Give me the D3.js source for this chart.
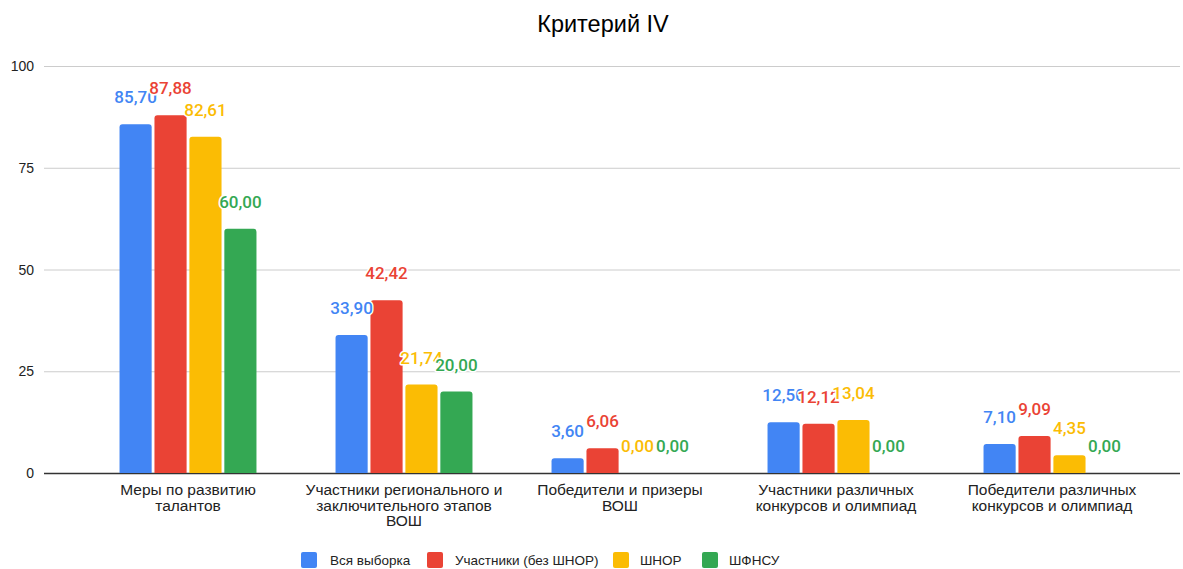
<!DOCTYPE html>
<html>
<head>
<meta charset="utf-8">
<script src="https://cdn.jsdelivr.net/npm/d3@7"></script>
<style>
  body { margin: 0; background: #fff; }
  svg { display: block; }
</style>
</head>
<body>
<svg id="chart" width="1183" height="569"></svg>
<script>
// chart data
const categories = [
  ['Меры по развитию', 'талантов'],
  ['Участники регионального и', 'заключительного этапов', 'ВОШ'],
  ['Победители и призеры', 'ВОШ'],
  ['Участники различных', 'конкурсов и олимпиад'],
  ['Победители различных', 'конкурсов и олимпиад']
];
const seriesNames = ['Вся выборка', 'Участники (без ШНОР)', 'ШНОР', 'ШФНСУ'];
const seriesColors = ['#4285F4', '#EA4335', '#FBBC04', '#34A853'];
const allSample = [85.70, 33.90, 3.60, 12.50, 7.10];
const participants = [87.88, 42.42, 6.06, 12.12, 9.09];
const shnor = [82.61, 21.74, 0.00, 13.04, 4.35];
const shfnsu = [60.00, 20.00, 0.00, 0.00, 0.00];
const yTicks = [0, 25, 50, 75, 100];

const seriesValues = [allSample, participants, shnor, shfnsu];

const svg = d3.select('#chart');
const plotLeft = 44, plotRight = 1180, plotTop = 66, plotBottom = 473;

const x0 = d3.scaleBand()
  .domain(d3.range(categories.length))
  .range([80, 1160])
  .paddingInner(0.366)
  .paddingOuter(0.183);

const x1 = d3.scaleBand()
  .domain(d3.range(seriesNames.length))
  .range([0, x0.bandwidth()])
  .paddingInner(0.08);

const y = d3.scaleLinear().domain([0, 100]).range([plotBottom, plotTop]);

// title
svg.append('text')
  .attr('x', 603).attr('y', 32)
  .attr('text-anchor', 'middle')
  .style('font-family', 'Arial, "Liberation Sans", sans-serif')
  .style('font-size', '23.5px')
  .attr('fill', '#000')
  .text('Критерий IV');

// grid + y axis labels
const yAxis = svg.append('g');
yAxis.selectAll('line')
  .data(yTicks)
  .enter().append('line')
  .attr('x1', plotLeft).attr('x2', plotRight)
  .attr('y1', d => y(d) + 0.5).attr('y2', d => y(d) + 0.5)
  .attr('stroke', d => d === 0 ? '#333' : '#ccc')
  .attr('stroke-width', d => d === 0 ? 1.5 : 1);

yAxis.selectAll('text')
  .data(yTicks)
  .enter().append('text')
  .attr('x', 34).attr('y', d => y(d) + 5)
  .attr('text-anchor', 'end')
  .style('font-family', 'Arial, "Liberation Sans", sans-serif')
  .style('font-size', '14px')
  .attr('fill', '#222')
  .text(d => d);

// bars with rounded tops
function barPath(x, yTop, w, h) {
  const r = Math.min(3, h / 2, w / 2);
  if (h <= 0) return '';
  return `M${x},${yTop + h}V${yTop + r}Q${x},${yTop} ${x + r},${yTop}` +
    `H${x + w - r}Q${x + w},${yTop} ${x + w},${yTop + r}V${yTop + h}Z`;
}

const groups = svg.append('g').selectAll('g')
  .data(categories)
  .enter().append('g')
  .attr('transform', (d, i) => `translate(${x0(i)},0)`);

groups.selectAll('path')
  .data((d, i) => seriesValues.map((vals, s) => ({ s, v: vals[i] })))
  .enter().append('path')
  .attr('d', d => barPath(x1(d.s), y(d.v), x1.bandwidth(), plotBottom - y(d.v)))
  .attr('fill', d => seriesColors[d.s]);

// value labels (drawn after all bars so they sit on top)
const labels = svg.append('g');
categories.forEach((c, i) => {
  seriesValues.forEach((vals, s) => {
    labels.append('text')
      .attr('x', x0(i) + x1(s) + x1.bandwidth() / 2)
      .attr('y', y(vals[i]) - 21)
      .attr('text-anchor', 'middle')
      .style('font-family', 'Roboto, sans-serif')
      .style('font-size', '17px')
      .style('font-weight', '500')
      .style('paint-order', 'stroke')
      .attr('stroke', '#fff')
      .attr('stroke-width', 3)
      .attr('stroke-linejoin', 'round')
      .attr('fill', seriesColors[s])
      .text(vals[i].toFixed(2).replace('.', ','));
  });
});

// category labels
const xLabels = svg.append('g').selectAll('text')
  .data(categories)
  .enter().append('text')
  .attr('x', (d, i) => x0(i) + x0.bandwidth() / 2)
  .attr('y', 495)
  .attr('text-anchor', 'middle')
  .style('font-family', 'Arial, "Liberation Sans", sans-serif')
  .style('font-size', '15.5px')
  .attr('fill', '#222');

xLabels.selectAll('tspan')
  .data(d => d)
  .enter().append('tspan')
  .attr('x', function () { return d3.select(this.parentNode).attr('x'); })
  .attr('dy', (d, i) => i === 0 ? 0 : 15.5)
  .text(d => d);

// legend
const legendX = [301, 427, 613, 702];
const legend = svg.append('g').selectAll('g')
  .data(seriesNames)
  .enter().append('g')
  .attr('transform', (d, i) => `translate(${legendX[i]},552)`);

legend.append('rect')
  .attr('width', 16).attr('height', 16)
  .attr('rx', 2)
  .attr('fill', (d, i) => seriesColors[i]);

legend.append('text')
  .attr('x', (d, i) => i === 0 ? 29 : i === 1 ? 28 : 27)
  .attr('y', 13)
  .style('font-family', 'Arial, "Liberation Sans", sans-serif')
  .style('font-size', '13.5px')
  .attr('fill', '#222')
  .text(d => d);
</script>
</body>
</html>
